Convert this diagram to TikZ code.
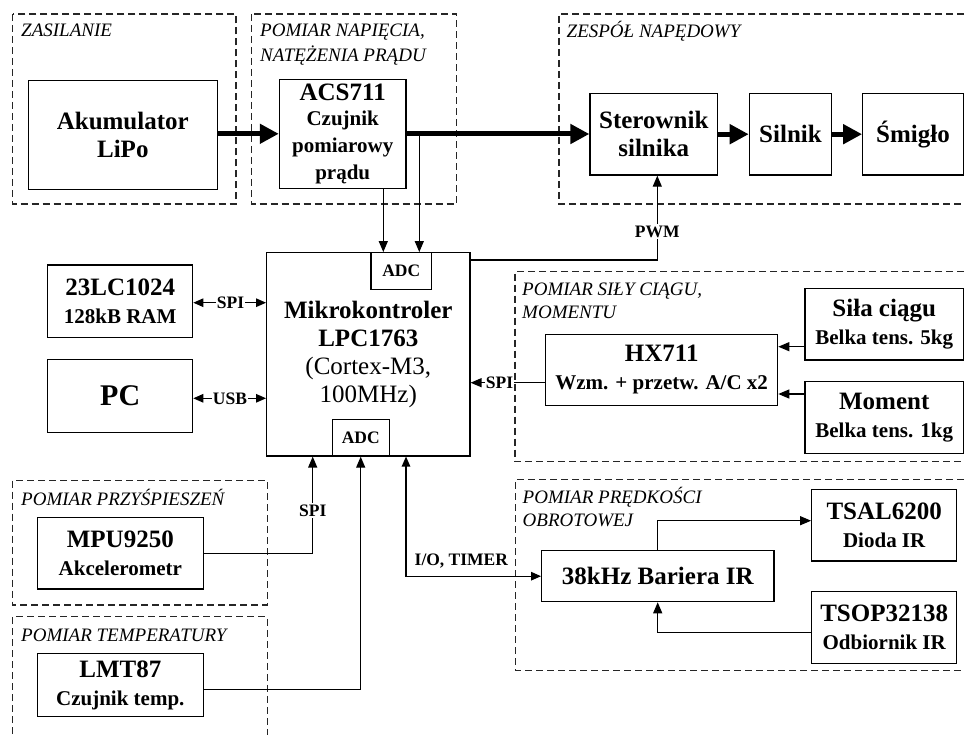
\documentclass[tikz,border=0pt]{standalone}
\usepackage{fontspec}
\setmainfont{Liberation Serif}
\usetikzlibrary{arrows.meta,calc}
\newcommand\fbig{\fontsize{25}{28}\selectfont\bfseries}
\newcommand\fsub{\fontsize{21}{28}\selectfont\bfseries}
\newcommand\fsml{\fontsize{17.5}{20}\selectfont\bfseries}
\newcommand\fgrp{\fontsize{19}{25}\selectfont\itshape}
\begin{document}
\begin{tikzpicture}[x=1pt,y=-1pt,
  box/.style={draw, line width=1.2pt, inner sep=0pt, align=center, font=\fbig},
  grp/.style={draw=black!85, line width=1.1pt, dash pattern=on 7pt off 4pt},
  glab/.style={anchor=base west, inner sep=0pt, font=\fgrp},
  tip/.style={line width=1.2pt, -{Triangle[length=11pt,width=9pt]}},
  dtip/.style={line width=1.2pt, {Triangle[length=10pt,width=8.5pt]}-{Triangle[length=10pt,width=8.5pt]}},
  power/.style={line width=5pt, -{Triangle[length=19pt,width=19pt]}},
  clab/.style={font=\fsml, fill=white, inner sep=1.5pt}]
\useasboundingbox (0,0) rectangle (965,735);

% groups
\draw[grp] (12.7,14) rectangle (236,204);
\draw[grp] (251.7,14) rectangle (456.7,204);
\draw[grp] (975,14) -- (559,14) -- (559,204) -- (975,204);
\draw[grp] (975,271.7) -- (515,271.7) -- (515,461.7) -- (975,461.7);
\draw[grp] (975,479.3) -- (515.7,479.3) -- (515.7,670.7) -- (975,670.7);
\draw[grp] (12.7,480.7) rectangle (267.3,605);
\draw[grp] (12.7,745) -- (12.7,616.7) -- (267.3,616.7) -- (267.3,745);

\node[glab] (g1) at (21,36.7) {ZASILANIE};
\node[glab] (g2a) at (260,36.7) {POMIAR NAPIĘCIA,};
\node[glab] (g2b) at (260,61.7) {NATĘŻENIA PRĄDU};
\node[glab] (g3) at (566.5,37.3) {ZESPÓŁ NAPĘDOWY};
\node[glab] (g4a) at (522,295) {POMIAR SIŁY CIĄGU,};
\node[glab] (g4b) at (522,318.3) {MOMENTU};
\node[glab] (g5a) at (522.5,503.3) {POMIAR PRĘDKOŚCI};
\node[glab] (g5b) at (522.5,526.7) {OBROTOWEJ};
\node[glab] (g6) at (21,505) {POMIAR PRZYŚPIESZEŃ};
\node[glab] (g7) at (21,641.7) {POMIAR TEMPERATURY};

% boxes
\node[box, minimum width=189pt, minimum height=108.6pt] (akku) at (122.8,135) {Akumulator\\LiPo};
\node[box, minimum width=126.7pt, minimum height=109pt,
      font=\fontsize{25}{27}\selectfont\bfseries] (acs) at (342.7,133.8)
  {\raisebox{-2pt}{ACS711}\\{\fontsize{21}{27}\selectfont Czujnik}\\{\fontsize{21}{27}\selectfont pomiarowy}\\{\fontsize{21}{27}\selectfont prądu}};
\node[box, minimum width=127.7pt, minimum height=81.7pt] (ster) at (653.8,134.2) {Sterownik\\silnika};
\node[box, minimum width=82.4pt, minimum height=81.7pt] (silnik) at (790.5,134.2) {Silnik};
\node[box, minimum width=100.6pt, minimum height=81.7pt] (smiglo) at (913,134.2) {Śmigło};

\node[box, minimum width=145pt, minimum height=72.3pt] (ram) at (120.2,301.2) {23LC1024\\{\fsub 128kB RAM}};
\node[box, minimum width=145pt, minimum height=73pt, font=\fontsize{30}{32}\selectfont\bfseries] (pc) at (120.2,395.8) {PC};

\node[box, minimum width=203.3pt, minimum height=203.3pt] (mcu) at (368.3,354.3) {Mikrokontroler\\LPC1763\\{\mdseries (Cortex-M3,}\\{\mdseries 100MHz)}};
\node[box, fill=white, font=\fsml, minimum width=60.7pt, minimum height=36.6pt] (adc1) at (401.3,271) {ADC};
\node[box, fill=white, font=\fsml, minimum width=57pt, minimum height=36.7pt] (adc2) at (360.8,437.7) {ADC};

\node[box, minimum width=232pt, minimum height=71pt] (hx) at (661.7,369.8) {HX711\\{\fsub Wzm. + przetw. A/C x2}};
\node[box, minimum width=158.3pt, minimum height=71.7pt] (sila) at (884.2,324.2) {Siła ciągu\\{\fsub Belka tens. 5kg}};
\node[box, minimum width=158.3pt, minimum height=71.6pt] (moment) at (884.2,417.5) {Moment\\{\fsub Belka tens. 1kg}};

\node[box, minimum width=166pt, minimum height=71.7pt] (mpu) at (120.3,553.2) {MPU9250\\{\fsub Akcelerometr}};
\node[box, minimum width=166pt, minimum height=63.4pt] (lmt) at (120.3,685) {LMT87\\{\fsub Czujnik temp.}};

\node[box, minimum width=232.3pt, minimum height=51pt] (bar) at (657.8,576.2) {38kHz Bariera IR};
\node[box, minimum width=145pt, minimum height=71.7pt] (tsal) at (884.2,525.2) {TSAL6200\\{\fsub Dioda IR}};
\node[box, minimum width=145pt, minimum height=71.6pt] (tsop) at (884.2,627.5) {TSOP32138\\{\fsub Odbiornik IR}};

% helper coordinates
\coordinate (xa) at (383.3,0);
\coordinate (xb) at (419.3,0);
\coordinate (xpwm) at (657.3,0);
\coordinate (ypwm) at (0,260);
\coordinate (yhx) at (0,382.7);
\coordinate (ysila) at (0,346.7);
\coordinate (ymom) at (0,394);
\coordinate (yspi) at (0,302.7);
\coordinate (yusb) at (0,398.3);
\coordinate (xspi) at (312.7,0);
\coordinate (xlmt) at (360.7,0);
\coordinate (ylmt) at (0,689.3);
\coordinate (xio) at (406,0);
\coordinate (xbar) at (657.7,0);
\coordinate (ytsal) at (0,520.7);
\coordinate (ytsop) at (0,632.7);
\coordinate (tap) at (419.3,134);

% power path
\draw[power] (akku.east |- acs.west) -- (acs.west);
\draw[power] (acs.east |- tap) -- (ster.west |- tap);
\draw[power] (ster.east) -- (silnik.west);
\draw[power] (silnik.east) -- (smiglo.west);

% ADC inputs from ACS711
\draw[tip] (acs.south -| xa) -- (adc1.north -| xa);
\draw[tip] (tap) -- (adc1.north -| xb);

% PWM
\draw[tip] (mcu.east |- ypwm) -| (ster.south -| xpwm);
\node[clab] (pwm) at (657.3,231.7) {PWM};

% SPI / USB
\draw[dtip] (ram.east |- yspi) -- (mcu.west |- yspi);
\node[clab, inner sep=0.5pt] (lspi) at (230.5,302.7) {SPI};
\draw[dtip] (pc.east |- yusb) -- (mcu.west |- yusb);
\node[clab, inner sep=0.5pt] (lusb) at (230,398.3) {USB};

% HX711
\draw[tip] (hx.west |- yhx) -- (mcu.east |- yhx);
\node[clab, inner sep=0.5pt] (lhx) at (499.5,382.7) {SPI};
\draw[tip] (sila.west |- ysila) -- (hx.east |- ysila);
\draw[tip] (moment.west |- ymom) -- (hx.east |- ymom);

% MPU
\draw[tip] (mpu.east) -| (mcu.south -| xspi);
\node[clab] (lmpu) at (312.7,510.7) {SPI};

% LMT
\draw[tip] (lmt.east |- ylmt) -| (adc2.south -| xlmt);

% I/O
\draw[dtip] (mcu.south -| xio) |- (bar.west);
\node[anchor=base west, font=\fsml, inner sep=0pt] (lio) at (414.5,565) {I/O, TIMER};

% IR barrier
\draw[tip] (bar.north -| xbar) |- (tsal.west |- ytsal);
\draw[tip] (tsop.west |- ytsop) -| (bar.south -| xbar);

\end{tikzpicture}
\end{document}
